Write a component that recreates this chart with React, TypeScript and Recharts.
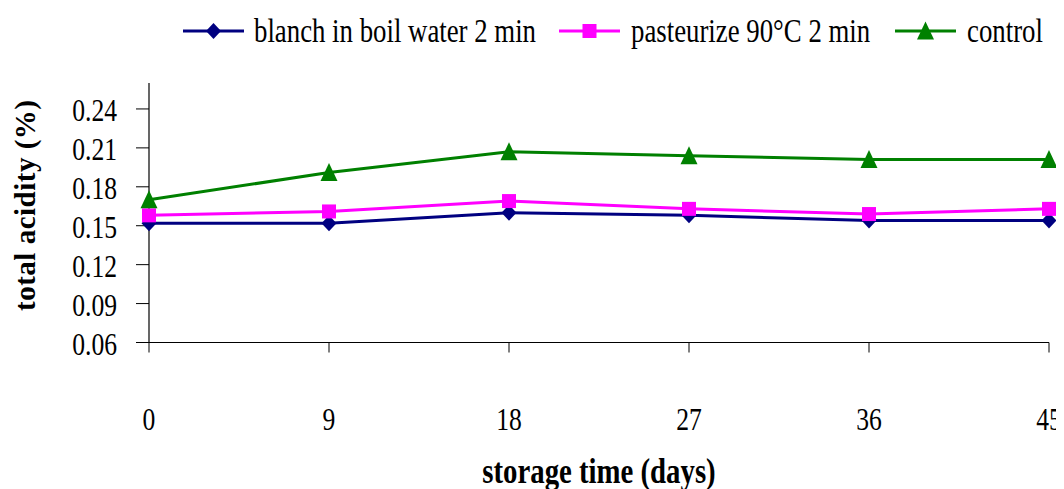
import React from 'react';
import { LineChart, Line, XAxis, YAxis, Legend, Label } from 'recharts';

// Storage days and total acidity (%) per treatment
const days = [0, 9, 18, 27, 36, 45];
const blanch = [0.152, 0.152, 0.16, 0.158, 0.154, 0.154];
const pasteurize = [0.158, 0.161, 0.169, 0.163, 0.159, 0.163];
const control = [0.17, 0.191, 0.207, 0.204, 0.201, 0.201];
const acidityTicks = [0.06, 0.09, 0.12, 0.15, 0.18, 0.21, 0.24];

const seriesKeys = ['blanch', 'pasteurize', 'control'];
const seriesNames = ['blanch in boil water 2 min', 'pasteurize 90°C 2 min', 'control'];
const seriesColors = ['#000080', '#FF00FF', '#008000'];

const data = days.map((d, i) => ({
  day: d,
  blanch: blanch[i],
  pasteurize: pasteurize[i],
  control: control[i],
}));

const FONT = '"Liberation Serif", "Times New Roman", serif';
const W = 1056;
const H = 481;

type Shape = 'diamond' | 'square' | 'triangle';
const shapes: Shape[] = ['diamond', 'square', 'triangle'];

function marker(shape: Shape, cx: number, cy: number, color: string, key?: string) {
  if (shape === 'diamond') {
    return (
      <polygon key={key} points={`${cx},${cy - 8} ${cx + 7.5},${cy} ${cx},${cy + 8} ${cx - 7.5},${cy}`} fill={color} />
    );
  }
  if (shape === 'square') {
    return <rect key={key} x={cx - 7} y={cy - 7} width={14} height={14} fill={color} />;
  }
  return (
    <polygon key={key} points={`${cx},${cy - 9.5} ${cx + 8.5},${cy + 8.5} ${cx - 8.5},${cy + 8.5}`} fill={color} />
  );
}

const makeDot = (idx: number) => (props: any) => {
  const { cx, cy, index } = props;
  if (cx == null || cy == null) return <g key={`e-${idx}-${index}`} />;
  return <g key={`d-${idx}-${index}`}>{marker(shapes[idx], cx, cy, seriesColors[idx])}</g>;
};

const textStyle = { fontFamily: FONT };

const XTick = (props: any) => {
  const { x, y, payload } = props;
  return (
    <g transform={`translate(${x},${y})`}>
      <text x={0} y={76} textAnchor="middle" transform="scale(0.8,1)" style={textStyle} fontSize={32} fill="#000">
        {payload.value}
      </text>
    </g>
  );
};

const YTick = (props: any) => {
  const { x, y, payload } = props;
  return (
    <g transform={`translate(${x},${y})`}>
      <text x={0} y={12} textAnchor="end" transform="scale(0.8,1)" style={textStyle} fontSize={32} fill="#000">
        {Number(payload.value).toFixed(2)}
      </text>
    </g>
  );
};

// Legend item layout along the top row
const legendIconX = [175, 551, 887];
const legendTextX = [246, 623, 959];

const renderLegend = () => (
  <svg width={W} height={60} style={{ display: 'block', fontFamily: FONT }}>
    {seriesNames.map((name, i) => (
      <g key={name}>
        <line x1={legendIconX[i]} x2={legendIconX[i] + 61} y1={23} y2={23} stroke={seriesColors[i]} strokeWidth={3} />
        {marker(shapes[i], legendIconX[i] + 30.5, 23, seriesColors[i])}
        <g transform={`translate(${legendTextX[i]},34) scale(0.8,1)`}>
          <text x={0} y={0} style={textStyle} fontSize={33.5} fill="#000">
            {name}
          </text>
        </g>
      </g>
    ))}
  </svg>
);

const XTitle = (props: any) => {
  const vb = props.viewBox || { x: 0, y: 0, width: 0, height: 0 };
  const cx = vb.x + vb.width / 2;
  return (
    <g transform={`translate(${cx},${vb.y + 140}) scale(0.8,1)`}>
      <text x={0} y={0} textAnchor="middle" style={textStyle} fontWeight="bold" fontSize={36} fill="#000">
        storage time (days)
      </text>
    </g>
  );
};

const YTitle = (props: any) => {
  const vb = props.viewBox || { x: 0, y: 0, width: 0, height: 0 };
  const cy = vb.y + vb.height / 2 - 7.5;
  return (
    <text
      x={0}
      y={0}
      transform={`translate(27,${cy}) rotate(-90)`}
      textAnchor="middle"
      style={{ ...textStyle, letterSpacing: '0.5px' }}
      fontWeight="bold"
      fontSize={29}
      fill="#000"
    >
      total acidity (%)
    </text>
  );
};

export default function App() {
  return (
    <div style={{ width: W, height: H, position: 'relative', background: '#fff', fontFamily: FONT }}>
      <LineChart width={W} height={H} data={data} margin={{ top: 75, right: 15, bottom: 0, left: 0 }}>
        <XAxis
          dataKey="day"
          type="number"
          domain={[0, 45]}
          ticks={days}
          height={146.5}
          tickSize={10}
          tickMargin={2}
          stroke="#000"
          axisLine={{ stroke: '#000', strokeWidth: 1.2 }}
          tickLine={{ stroke: '#000', strokeWidth: 1 }}
          tick={<XTick />}
          interval={0}
        >
          <Label content={<XTitle />} />
        </XAxis>
        <YAxis
          type="number"
          domain={[0.06, 0.26]}
          ticks={acidityTicks}
          width={141}
          tickSize={13}
          tickMargin={19}
          allowDataOverflow
          axisLine={{ stroke: '#000', strokeWidth: 1.2 }}
          tickLine={{ stroke: '#000', strokeWidth: 1 }}
          tick={<YTick />}
          interval={0}
        >
          <Label content={<YTitle />} />
        </YAxis>
        <Legend
          layout="horizontal"
          verticalAlign="middle"
          align="center"
          content={renderLegend}
          wrapperStyle={{ position: 'absolute', top: 0, left: 0, width: W, height: 60 }}
        />
        {seriesKeys.map((k, i) => (
          <Line
            key={k}
            dataKey={k}
            name={seriesNames[i]}
            stroke={seriesColors[i]}
            strokeWidth={3}
            dot={makeDot(i)}
            activeDot={false}
            isAnimationActive={false}
          />
        ))}
      </LineChart>
    </div>
  );
}
